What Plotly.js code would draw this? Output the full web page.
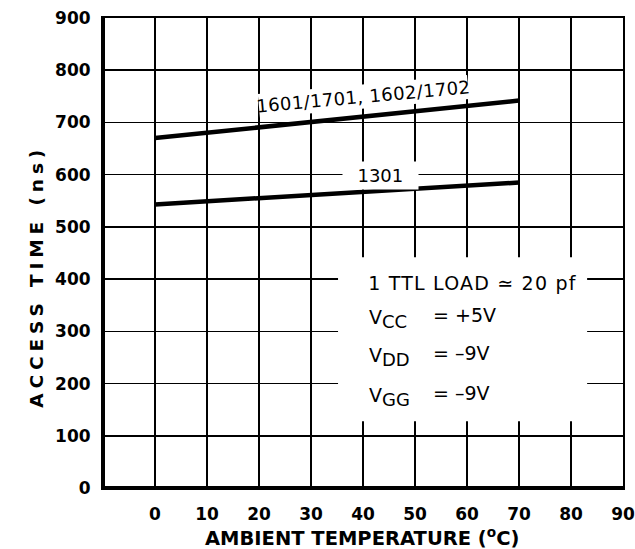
<!DOCTYPE html>
<html>
<head>
<meta charset="utf-8">
<script src="https://cdn.plot.ly/plotly-3.0.1.min.js"></script>
<style>
  html, body { margin: 0; padding: 0; background: #fff; }
  #chart { width: 635px; height: 549px; }
  g.annotation[data-index="0"] text { letter-spacing: 4.9px; }
  g.annotation[data-index="2"] text { letter-spacing: 0.4px; }
  g.annotation[data-index="4"] text { letter-spacing: 1.2px; }
</style>
</head>
<body>
<div id="chart"></div>
<script>
// ---- data ----
const temps = [0, 70];                       // ambient temperature (°C)
const access1601 = [670, 742];               // 1601/1701, 1602/1702 access time (ns)
const access1301 = [543, 585];               // 1301 access time (ns)
const xTicks = [0, 10, 20, 30, 40, 50, 60, 70, 80, 90];
const yTicks = [0, 100, 200, 300, 400, 500, 600, 700, 800, 900];
const seriesNames = ['1601/1701, 1602/1702', '1301'];
const conditionLines = ['1 TTL LOAD \u2243 20 pf'];
const supplySubs = ['CC', 'DD', 'GG'];
const supplyValues = ['= +5V', '= \u20139V', '= \u20139V'];

const FONT = 'DejaVu Sans';
const lineStyle = { color: '#000', width: 4.5 };

const traces = [
  { x: temps, y: access1601, type: 'scatter', mode: 'lines', name: seriesNames[0], line: lineStyle, hoverinfo: 'skip' },
  { x: temps, y: access1301, type: 'scatter', mode: 'lines', name: seriesNames[1], line: lineStyle, hoverinfo: 'skip' }
];

const supplyY = [331, 258.5, 182];
const annotations = [
  { // y axis title (index 0)
    xref: 'paper', yref: 'paper', x: -0.127, y: 0.45, xanchor: 'center', yanchor: 'middle',
    showarrow: false, textangle: -90,
    text: 'ACCESS TIME (ns)',
    font: { family: FONT, size: 18.5, color: '#000', weight: 'bold' }
  },
  { // x axis title
    xref: 'paper', yref: 'paper', x: 0.498, y: -0.104, xanchor: 'center', yanchor: 'middle',
    showarrow: false,
    text: 'AMBIENT TEMPERATURE (<sup>o</sup>C)',
    font: { family: FONT, size: 19.5, color: '#000', weight: 'bold' }
  },
  { x: 40, y: 749, text: seriesNames[0], showarrow: false, textangle: -5.2,
    bgcolor: '#fff', borderpad: 1, font: { family: FONT, size: 18, color: '#000' } },
  { x: 43.3, y: 599, text: '\u00a0\u00a0' + seriesNames[1] + '\u00a0\u00a0', showarrow: false,
    bgcolor: '#fff', borderpad: 3, font: { family: FONT, size: 18, color: '#000' } },
  { x: 42.6, y: 392.6, text: conditionLines[0], showarrow: false, xanchor: 'left',
    font: { family: FONT, size: 19, color: '#000' } }
];
supplySubs.forEach((sb, i) => {
  annotations.push({ x: 40.7, y: supplyY[i], yshift: -4,
    text: 'V<sub><span style="font-size:18px">' + sb + '</span></sub>',
    showarrow: false, xanchor: 'left',
    font: { family: FONT, size: 19, color: '#000' } });
  annotations.push({ x: 53.0, y: supplyY[i], text: supplyValues[i], showarrow: false, xanchor: 'left',
    font: { family: FONT, size: 19, color: '#000' } });
});

const layout = {
  width: 635, height: 549,
  margin: { l: 103, r: 12, t: 18, b: 61, pad: 0 },
  paper_bgcolor: '#fff', plot_bgcolor: '#fff',
  showlegend: false,
  xaxis: {
    range: [-10, 90], tickmode: 'array', tickvals: xTicks, ticktext: xTicks.map(String),
    showgrid: true, gridcolor: '#000', gridwidth: 1.5, zeroline: false,
    showline: true, mirror: true, linecolor: '#000', linewidth: 2,
    ticks: '', ticklabelstandoff: 10,
    tickfont: { family: FONT, size: 17, color: '#000', weight: 'bold' }
  },
  yaxis: {
    range: [0, 900], tickmode: 'array', tickvals: yTicks, ticktext: yTicks.map(String),
    showgrid: true, gridcolor: '#000', gridwidth: 1.5, zeroline: false,
    showline: true, mirror: true, linecolor: '#000', linewidth: 2,
    ticks: '', ticklabelstandoff: 7,
    tickfont: { family: FONT, size: 17, color: '#000', weight: 'bold' }
  },
  shapes: [
    { type: 'rect', xref: 'x', yref: 'y', x0: 35.2, x1: 83.1, y0: 128, y1: 442,
      fillcolor: '#fff', line: { width: 0 }, layer: 'above' },
    { type: 'line', xref: 'paper', yref: 'paper', x0: 0, x1: 0, y0: 0, y1: 1,
      line: { color: '#000', width: 4 }, layer: 'above' },
    { type: 'line', xref: 'paper', yref: 'paper', x0: 0, x1: 1, y0: 0, y1: 0,
      line: { color: '#000', width: 4 }, layer: 'above' }
  ],
  annotations: annotations
};

Plotly.newPlot('chart', traces, layout, { displayModeBar: false, staticPlot: true });
</script>
</body>
</html>
